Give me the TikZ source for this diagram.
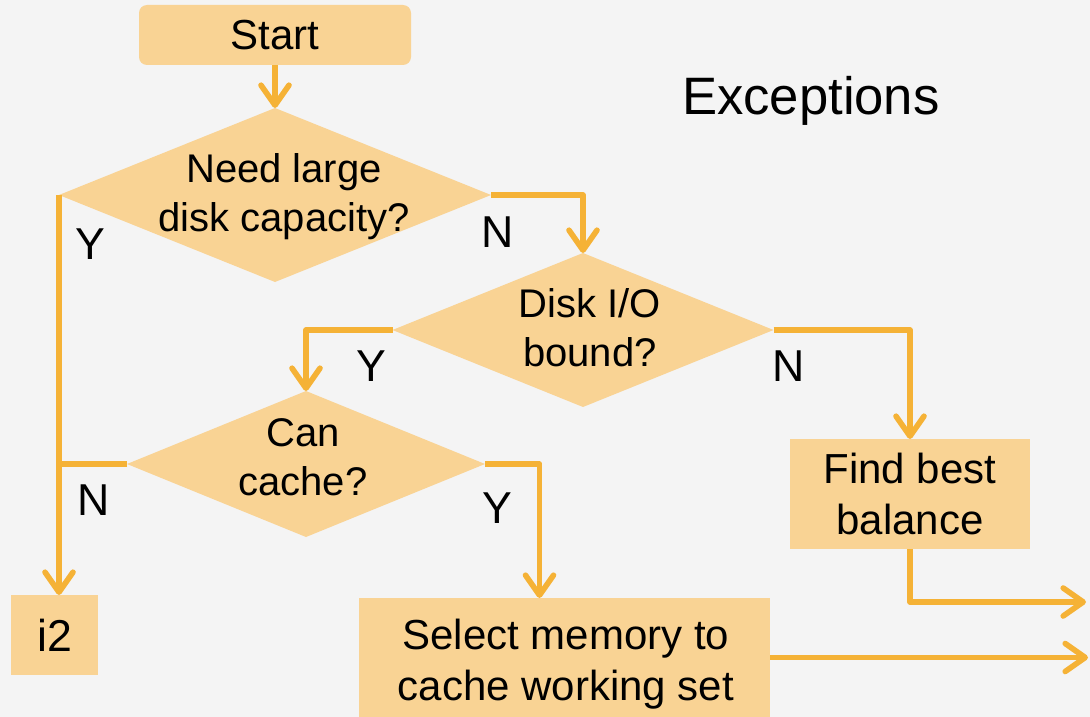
\documentclass[tikz,border=0pt]{standalone}
\usepackage{fontspec}
\setmainfont{Liberation Sans}
\usetikzlibrary{shapes.geometric,arrows.meta,calc}
\definecolor{pagebg}{HTML}{F4F4F4}
\definecolor{boxfill}{HTML}{F9D394}
\definecolor{flow}{HTML}{F5B236}
\begin{document}
\begin{tikzpicture}[x=0.75pt,y=-0.75pt,
  every node/.style={inner sep=0pt, outer sep=0pt},
  procbox/.style={rectangle, fill=boxfill, font=\fontsize{31.5}{38.5}\selectfont, align=center},
  decision/.style={diamond, fill=boxfill},
  qtext/.style={font=\fontsize{30}{36.75}\selectfont, align=center},
  branch/.style={font=\fontsize{33.5}{40}\selectfont},
  flowline/.style={draw=flow, line width=4.2pt, line join=round},
  flowarrow/.style={flowline, -{Straight Barb[length=15pt,width=21pt,round]}}]

% page
\fill[pagebg] (0,0) rectangle (1090,717);
\useasboundingbox (0,0) rectangle (1090,717);

% title
\node[anchor=base west, font=\fontsize{39.5}{47}\selectfont] (title) at (682,115) {Exceptions};

% boxes
\node[procbox, rounded corners=6pt, minimum width=204pt, minimum height=45pt] (start) at (275,35) {Start};
\node[procbox, minimum width=65.25pt, minimum height=60pt, font=\fontsize{33.5}{40}\selectfont] (i2) at (54.5,635) {i2};
\node[procbox, minimum width=180pt, minimum height=82.5pt] (find) at (910,494) {Find best\\balance};
\node[procbox, minimum width=308.25pt, minimum height=89.25pt] (sel) at (564.5,657.5) {};
\node[procbox, fill=none] (seltxt) at (566,664) {Select memory to\\cache working set};

% decisions
\node[decision, minimum width=324pt, minimum height=130.5pt] (d1) at (275,195) {};
\node[qtext] (d1txt) at (284,197) {Need large\\disk capacity?};
\node[decision, minimum width=285.75pt, minimum height=115.5pt] (d2) at (583,330) {};
\node[qtext] (d2txt) at (590,328) {Disk I/O\\bound?};
\node[decision, minimum width=268.5pt, minimum height=109.5pt] (d3) at (306,464) {};
\node[qtext] (d3txt) at (303,457) {Can\\cache?};

% free ends of the outgoing arrows
\coordinate (out1) at (1086,602);
\coordinate (out2) at (1088,657.5);

% connectors
\draw[flowarrow] (start.south) -- (d1.north);
\draw[flowarrow] (d1.west) -- (d1.west |- i2.north);
\draw[flowarrow] (d1.east) -| (d2.north);
\draw[flowarrow] (d2.west) -| (d3.north);
\draw[flowarrow] (d2.east) -| (find.north);
\draw[flowline] (d3.west) -- (d1.west |- d3.west);
\draw[flowarrow] (d3.east) -| ([xshift=-18.75pt]sel.north);
\draw[flowarrow] (find.south) |- (out1);
\draw[flowarrow] (sel.east) -- (out2);

% branch labels
\node[branch] (y1) at (90,244) {Y};
\node[branch] (n1) at (498,232) {N};
\node[branch] (y2) at (371,366) {Y};
\node[branch] (n2) at (789,366) {N};
\node[branch] (n3) at (94,500) {N};
\node[branch] (y3) at (497,508) {Y};
\end{tikzpicture}
\end{document}
